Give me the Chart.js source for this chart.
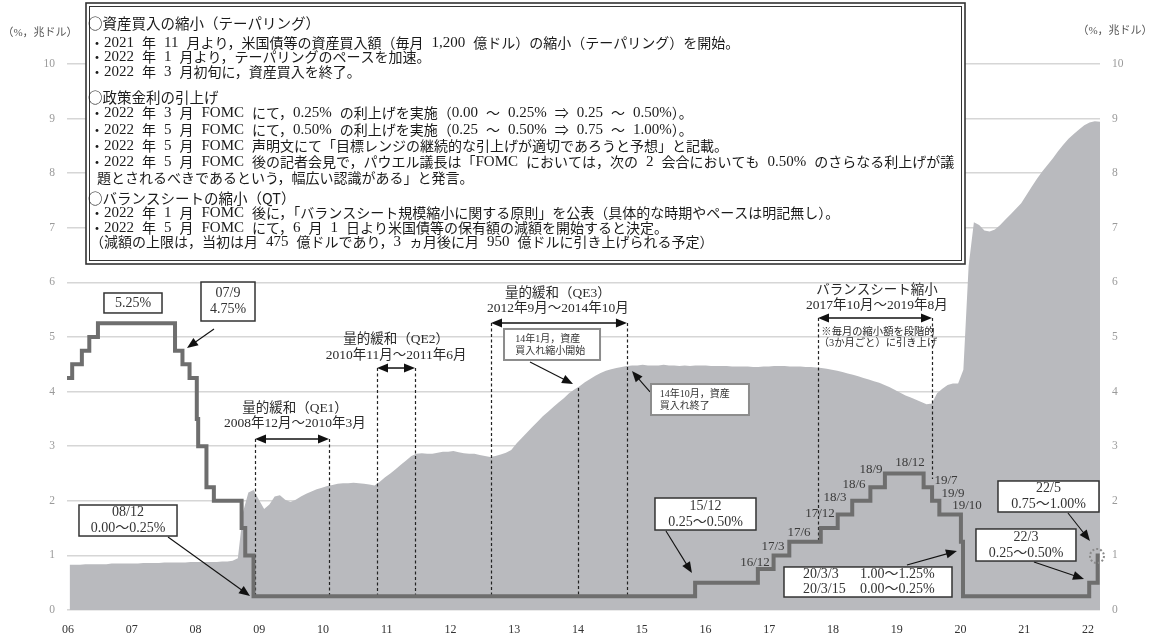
<!DOCTYPE html>
<html><head><meta charset="utf-8">
<script src="https://cdn.jsdelivr.net/npm/chart.js@4.4.1/dist/chart.umd.min.js"></script>
<style>html,body{margin:0;padding:0;background:#fff;}canvas{display:block}</style>
</head><body>
<canvas id="c" width="1164" height="636" style="width:1164px;height:636px"></canvas>
<script>
// ---------------- DATA ----------------
const yearLabels = ['06','07','08','09','10','11','12','13','14','15','16','17','18','19','20','21','22'];
// Fed balance sheet (trillion USD), monthly from Jan 2006 to May 2022
const bsStartYear = 2006;
const balanceSheet = [
 0.83,0.83,0.83,0.84,0.84,0.84,0.84,0.84,0.85,0.85,0.85,0.85,
 0.85,0.85,0.86,0.86,0.86,0.86,0.87,0.87,0.87,0.87,0.87,0.88,
 0.88,0.88,0.88,0.88,0.88,0.89,0.89,0.90,0.95,1.80,2.15,2.20,
 2.02,1.85,1.93,2.08,2.10,2.02,1.98,2.02,2.08,2.13,2.17,2.21,
 2.24,2.27,2.29,2.31,2.32,2.32,2.33,2.32,2.31,2.30,2.28,2.35,
 2.43,2.50,2.58,2.66,2.74,2.82,2.86,2.87,2.86,2.86,2.88,2.90,
 2.90,2.91,2.89,2.87,2.86,2.86,2.84,2.82,2.80,2.82,2.85,2.88,
 2.93,3.05,3.15,3.25,3.35,3.45,3.55,3.63,3.72,3.80,3.88,3.97,
 4.04,4.10,4.17,4.23,4.29,4.34,4.38,4.41,4.43,4.45,4.47,4.48,
 4.48,4.49,4.48,4.48,4.48,4.49,4.48,4.48,4.47,4.48,4.47,4.48,
 4.48,4.48,4.47,4.47,4.47,4.47,4.46,4.46,4.46,4.46,4.45,4.45,
 4.46,4.46,4.47,4.47,4.47,4.46,4.46,4.46,4.45,4.45,4.44,4.43,
 4.42,4.40,4.38,4.36,4.33,4.31,4.28,4.25,4.22,4.19,4.16,4.12,
 4.08,4.03,3.98,3.93,3.89,3.85,3.81,3.77,3.78,3.97,4.05,4.12,
 4.15,4.15,4.40,6.30,7.10,7.05,6.95,6.93,6.97,7.05,7.15,7.25,
 7.35,7.45,7.60,7.75,7.90,8.03,8.15,8.27,8.40,8.52,8.63,8.72,
 8.80,8.88,8.93,8.95,8.94
];
// Policy rate (upper bound of target, %) : change dates and new levels
const rateDates = ['2006-01-01','2006-01-31','2006-03-28','2006-05-10','2006-06-29','2007-09-18','2007-10-31','2007-12-11',
 '2008-01-22','2008-01-30','2008-03-18','2008-04-30','2008-10-08','2008-10-29','2008-12-16','2015-12-16','2016-12-14',
 '2017-03-15','2017-06-14','2017-12-13','2018-03-21','2018-06-13','2018-09-26','2018-12-19','2019-07-31','2019-09-18',
 '2019-10-30','2020-03-03','2020-03-15','2022-03-16','2022-05-04','2022-05-16'];
const rateValues = [4.25,4.50,4.75,5.00,5.25,4.75,4.50,4.25,3.50,3.00,2.25,2.00,1.50,1.00,0.25,0.50,0.75,
 1.00,1.25,1.50,1.75,2.00,2.25,2.50,2.25,2.00,1.75,1.25,0.25,0.50,1.00,1.00];

const noteLines = [
 {t:'○資産買入の縮小（テーパリング）', kind:'head'},
 {t:'・2021 年 11 月より，米国債等の資産買入額（毎月 1,200 億ドル）の縮小（テーパリング）を開始。'},
 {t:'・2022 年 1 月より，テーパリングのペースを加速。'},
 {t:'・2022 年 3 月初旬に，資産買入を終了。'},
 {t:'○政策金利の引上げ', kind:'head'},
 {t:'・2022 年 3 月 FOMC にて，0.25% の利上げを実施（0.00 ～ 0.25% ⇒ 0.25 ～ 0.50%）。'},
 {t:'・2022 年 5 月 FOMC にて，0.50% の利上げを実施（0.25 ～ 0.50% ⇒ 0.75 ～ 1.00%）。'},
 {t:'・2022 年 5 月 FOMC 声明文にて「目標レンジの継続的な引上げが適切であろうと予想」と記載。'},
 {t:'・2022 年 5 月 FOMC 後の記者会見で，パウエル議長は「FOMC においては，次の 2 会合においても 0.50% のさらなる利上げが議'},
 {t:'題とされるべきであるという，幅広い認識がある」と発言。', kind:'cont'},
 {t:'○バランスシートの縮小（QT）', kind:'head'},
 {t:'・2022 年 1 月 FOMC 後に，「バランスシート規模縮小に関する原則」を公表（具体的な時期やペースは明記無し）。'},
 {t:'・2022 年 5 月 FOMC にて，6 月 1 日より米国債等の保有額の減額を開始すると決定。'},
 {t:'（減額の上限は，当初は月 475 億ドルであり，3 ヵ月後に月 950 億ドルに引き上げられる予定）'}
];
const unitLabel = '（%，兆ドル）';

// ---------------- ANNOTATION LAYOUT (data units) ----------------
const SERIF = "'Liberation Serif','Noto Sans CJK JP',serif";
const SANS = "'Noto Sans CJK JP','Noto Sans',sans-serif";
const boxes = [
 {x1:2006.586,x2:2007.506,y1:5.806,y2:5.440, lines:['5.25%'], size:14},
 {x1:2008.124,x2:2008.980,y1:6.007,y2:5.293, lines:['07/9','4.75%'], size:14},
 {x1:2006.190,x2:2007.744,y1:1.923,y2:1.355, lines:['08/12','0.00～0.25%'], size:14},
 {x1:2015.320,x2:2016.921,y1:2.051,y2:1.465, lines:['15/12','0.25～0.50%'], size:14},
 {x1:2020.757,x2:2022.358,y1:2.363,y2:1.795, lines:['22/5','0.75～1.00%'], size:14},
 {x1:2020.408,x2:2021.993,y1:1.484,y2:0.897, lines:['22/3','0.25～0.50%'], size:14},
 {x1:2017.365,x2:2020.028,y1:0.788,y2:0.238, cols:[[2017.666,2018.569],[['20/3/3','1.00～1.25%'],['20/3/15','0.00～0.25%']]], size:14},
 {x1:2012.927,x2:2014.449,y1:5.147,y2:4.579, lines:['14年1月，資産','買入れ縮小開始'], size:10, gray:true, left:0.2},
 {x1:2015.257,x2:2016.810,y1:4.139,y2:3.571, lines:['14年10月，資産','買入れ終了'], size:10, gray:true, left:0.17}
];
const arrows = [
 [2008.330,5.147,2007.902,4.799],
 [2013.339,4.542,2014.021,4.139],
 [2015.241,3.993,2014.955,4.377],
 [2007.601,1.337,2008.901,0.256],
 [2015.494,1.447,2015.906,0.678],
 [2019.314,0.824,2020.106,1.081],
 [2021.866,1.777,2022.215,1.264],
 [2021.327,0.879,2022.120,0.568]
];
const spans = [ // double arrows [x1,x2,y]
 [2008.980,2010.153,3.132],[2010.914,2011.516,4.432],[2012.721,2014.876,5.256],[2017.904,2019.711,5.348]
];
const dashed = [ // [x, yTop, yBottom]
 [2008.980,3.132,0.25],[2010.153,3.132,0.25],[2010.914,4.432,0.25],[2011.516,4.432,0.25],
 [2012.721,5.256,0.25],[2014.876,5.256,0.25],[2014.100,4.066,0.25],
 [2017.904,5.348,1.282],[2019.711,5.348,2.399]
];
const texts = [
 [2009.614,3.700,'量的緩和（QE1）',13.5],[2009.614,3.425,'2008年12月～2010年3月',13.5],
 [2011.215,4.963,'量的緩和（QE2）',13.5],[2011.215,4.670,'2010年11月～2011年6月',13.5],
 [2013.782,5.806,'量的緩和（QE3）',13.5],[2013.782,5.531,'2012年9月～2014年10月',13.5],
 [2018.839,5.861,'バランスシート縮小',13.5],[2018.839,5.586,'2017年10月～2019年8月',13.5],
 [2018.855,5.092,'※毎月の縮小額を段階的',10.3],[2018.855,4.890,'（3か月ごと）に引き上げ',10.3]
];
const rateLabels = [
 [2016.905,0.861,'16/12'],[2017.190,1.154,'17/3'],[2017.603,1.410,'17/6'],[2017.935,1.758,'17/12'],
 [2018.173,2.051,'18/3'],[2018.474,2.289,'18/6'],[2018.744,2.564,'18/9'],[2019.362,2.692,'18/12'],
 [2019.932,2.363,'19/7'],[2020.043,2.125,'19/9'],[2020.265,1.905,'19/10']
];
const circleMark = [2022.326,0.989];
const X_TICK0 = 2006.016, X_TICK_STEP = 1.0105;

function toYear(s){const [y,m,d]=s.split('-').map(Number);const a=Date.UTC(y,0,1),b=Date.UTC(y+1,0,1);return y+(Date.UTC(y,m-1,d)-a)/(b-a);}

function head(ctx,x1,y1,x2,y2,len,w){
 const a=Math.atan2(y2-y1,x2-x1),c=Math.cos(a),s=Math.sin(a);
 ctx.beginPath();ctx.moveTo(x2,y2);
 ctx.lineTo(x2-len*c+w*s,y2-len*s-w*c);ctx.lineTo(x2-len*c-w*s,y2-len*s+w*c);ctx.closePath();ctx.fill();
}
// mixed Japanese / Latin run drawing (Latin in serif, wider word gaps)
function drawMixed(ctx,text,x,y,cjkSize,latSize,spaceW){
 const runs=text.match(/ |[!-~]+|[^ !-~]+/g)||[];
 let cx=x;
 runs.forEach(r=>{
  if(r===' '){cx+=spaceW;return;}
  if(/^[!-~]+$/.test(r)){ctx.font=latSize+"px 'Liberation Serif',serif";}
  else{ctx.font=cjkSize+"px 'Noto Sans CJK JP',sans-serif";}
  ctx.fillText(r,cx,y);cx+=ctx.measureText(r).width;
 });
}

const annot = {
 id:'annot',
 afterDatasetDraw(chart,args){
  if(args.index!==1) return;
  const ctx=chart.ctx,X=v=>chart.scales.x.getPixelForValue(v),Y=v=>chart.scales.y.getPixelForValue(v);
  ctx.save();ctx.strokeStyle='#222';ctx.lineWidth=1.2;ctx.setLineDash([3,2.5]);
  dashed.forEach(d=>{const x=Math.round(X(d[0]))+0.5;ctx.beginPath();ctx.moveTo(x,Y(d[1]));ctx.lineTo(x,Y(d[2]));ctx.stroke();});
  ctx.restore();
 },
 afterDatasetsDraw(chart){
  const ctx=chart.ctx,X=v=>chart.scales.x.getPixelForValue(v),Y=v=>chart.scales.y.getPixelForValue(v);
  ctx.save();
  ctx.strokeStyle='#111';ctx.fillStyle='#111';ctx.lineWidth=1.5;
  spans.forEach(s=>{const x1=X(s[0]),x2=X(s[1]),y=Y(s[2]);
   ctx.beginPath();ctx.moveTo(x1+6,y);ctx.lineTo(x2-6,y);ctx.stroke();
   head(ctx,x2,y,x1,y,11,4.5);head(ctx,x1,y,x2,y,11,4.5);});
  ctx.lineWidth=1.1;
  arrows.forEach(a=>{const x1=X(a[0]),y1=Y(a[1]),x2=X(a[2]),y2=Y(a[3]);
   const ang=Math.atan2(y2-y1,x2-x1);
   ctx.beginPath();ctx.moveTo(x1,y1);ctx.lineTo(x2-6*Math.cos(ang),y2-6*Math.sin(ang));ctx.stroke();
   head(ctx,x1,y1,x2,y2,11,4.5);});
  ctx.textBaseline='middle';
  boxes.forEach(b=>{
   const x1=X(b.x1),x2=X(b.x2),y1=Y(b.y1),y2=Y(b.y2);
   ctx.fillStyle='#fff';ctx.fillRect(x1,y1,x2-x1,y2-y1);
   ctx.strokeStyle=b.gray?'#8c8c8c':'#333';ctx.lineWidth=b.gray?2:1.5;
   ctx.strokeRect(x1,y1,x2-x1,y2-y1);
   ctx.fillStyle='#333';ctx.font=b.size+'px '+SERIF;
   const cy=(y1+y2)/2;
   if(b.cols){
    ctx.textAlign='left';
    b.cols[1].forEach((row,i)=>{const yy=cy+(i===0?-7.5:7.5);
     ctx.fillText(row[0],X(b.cols[0][0]),yy);ctx.fillText(row[1],X(b.cols[0][1]),yy);});
   } else if(b.lines.length===1){
    ctx.textAlign='center';ctx.fillText(b.lines[0],(x1+x2)/2,cy+0.5);
   } else {
    const dy=b.size>=12?8:6;
    b.lines.forEach((l,i)=>{
     if(b.left!==undefined){ctx.textAlign='left';ctx.fillText(l,x1+(x2-x1)*b.left-8,cy+1+(i===0?-dy:dy));}
     else{ctx.textAlign='center';ctx.fillText(l,(x1+x2)/2,cy+(i===0?-dy:dy));}
    });
   }
  });
  ctx.fillStyle='#2a2a2a';ctx.textAlign='center';
  texts.forEach(t=>{ctx.font=t[3]+'px '+SERIF;ctx.fillText(t[2],X(t[0]),Y(t[1]));});
  ctx.fillStyle='#3a3a3a';ctx.font='13px '+SERIF;
  rateLabels.forEach(t=>{ctx.fillText(t[2],X(t[0]),Y(t[1]));});
  ctx.strokeStyle='#8a8a8a';ctx.lineWidth=2;ctx.setLineDash([2,2]);
  ctx.beginPath();ctx.arc(X(circleMark[0]),Y(circleMark[1]),7,0,Math.PI*2);ctx.stroke();
  ctx.restore();
 },
 afterDraw(chart){
  const ctx=chart.ctx;ctx.save();
  ctx.fillStyle='#555';ctx.font='11px '+SERIF;ctx.textAlign='center';ctx.textBaseline='middle';
  ctx.fillText(unitLabel,40,33);ctx.fillText(unitLabel,1115,31);
  const L=86,T=3,R=965,B=264;
  ctx.fillStyle='#fff';ctx.fillRect(L,T,R-L,B-T);
  ctx.strokeStyle='#333';ctx.lineWidth=1.6;ctx.strokeRect(L,T,R-L,B-T);
  ctx.lineWidth=1;ctx.strokeRect(L+3.5,T+3.5,R-L-7,B-T-7);
  const ys=[23,43,57,72,97,113,130,146,162,178,198,213,228,242];
  ctx.textAlign='left';ctx.fillStyle='#1a1a1a';
  noteLines.forEach((ln,i)=>{
   if(ln.kind==='head'){ctx.font='14.5px '+SANS;ctx.fillText(ln.t,88,ys[i]);}
   else drawMixed(ctx,ln.t,ln.kind==='cont'?97:90,ys[i],14,15,8);
  });
  ctx.restore();
 }
};

const bsData = balanceSheet.map((v,i)=>({x:bsStartYear+(i+0.5)/12,y:v}));
const rateData = rateDates.map((d,i)=>({x:toYear(d),y:rateValues[i]}));

new Chart(document.getElementById('c'),{
 type:'line',
 data:{datasets:[
  {label:'政策金利',data:rateData,stepped:true,borderColor:'#6e6e6e',borderWidth:4,pointRadius:0,fill:false,borderJoinStyle:'miter',borderCapStyle:'butt'},
  {label:'FRB総資産',data:bsData,borderWidth:0,borderColor:'rgba(0,0,0,0)',backgroundColor:'#b9babe',pointRadius:0,fill:'origin',tension:0}
 ]},
 options:{
  responsive:false,animation:false,devicePixelRatio:1,
  layout:{padding:{top:64,left:0,right:0,bottom:0}},
  plugins:{legend:{display:false},tooltip:{enabled:false}},
  scales:{
   x:{type:'linear',min:2006,max:2022.374,
      grid:{display:false,drawTicks:false},border:{display:false},
      ticks:{autoSkip:false,maxRotation:0,color:'#333',font:{family:SERIF,size:12},padding:13,callback:(v,i)=>yearLabels[i]},
      afterBuildTicks:ax=>{ax.ticks=yearLabels.map((_,k)=>({value:X_TICK0+k*X_TICK_STEP}));},
      afterFit:s=>{s.height=26;}},
   y:{position:'left',min:0,max:10,
      ticks:{stepSize:1,color:'#9a9a9a',font:{family:SERIF,size:11.5},padding:12},
      grid:{color:'#d6d6d6',lineWidth:1.5,drawTicks:false},border:{display:false},
      afterFit:s=>{s.width=67;}},
   y2:{position:'right',min:0,max:10,
      ticks:{stepSize:1,color:'#9a9a9a',font:{family:SERIF,size:11.5},padding:12},
      grid:{display:false,drawTicks:false},border:{display:false},
      afterFit:s=>{s.width=64;}}
  }
 },
 plugins:[annot]
});
</script>
</body></html>
